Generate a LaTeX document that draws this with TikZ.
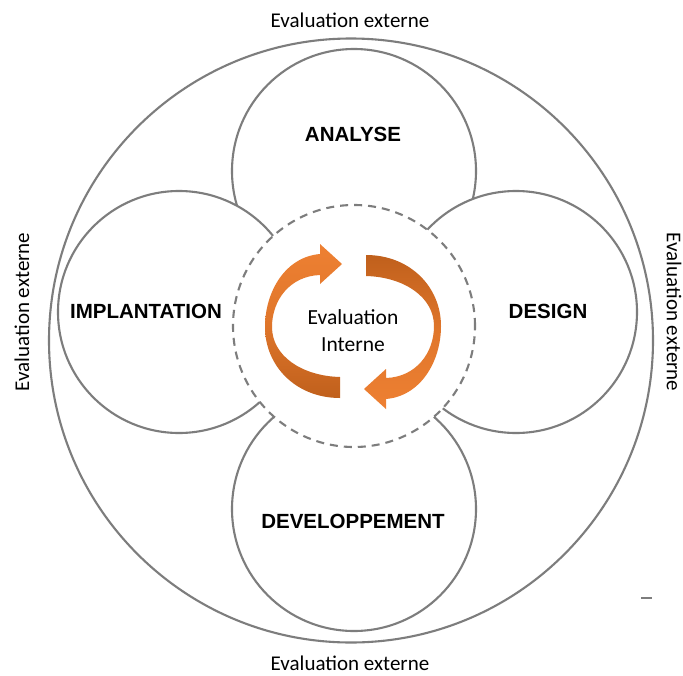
\documentclass[tikz,border=0pt]{standalone}
\usepackage{fontspec}
\setmainfont{Carlito}
\newfontfamily\labelfont{Liberation Sans}
\definecolor{linegray}{RGB}{125,125,125}
\definecolor{orlight}{RGB}{238,128,50}
\definecolor{ordark}{RGB}{192,96,28}
\begin{document}
\begin{tikzpicture}[x=1pt,y=-1pt,
  ring/.style={circle, draw=linegray, line width=2.1pt, fill=white, inner sep=0pt},
  ext/.style={font=\fontsize{21}{25}\selectfont, inner sep=0pt},
  lab/.style={font=\labelfont\bfseries\fontsize{20.5}{24}\selectfont, inner sep=0pt},
]
\useasboundingbox (0,0) rectangle (683,675);
\fill[white] (0,0) rectangle (683,675);
% outer circle
\node[ring, fill=none, minimum size=604pt] (outer) at (351,340.5) {};
% phase circles
\node[ring, minimum size=244pt] (top) at (354,171) {};
\node[ring, minimum size=242pt] (left) at (179,312) {};
\node[ring, minimum size=242pt] (right) at (516,312) {};
\node[ring, minimum size=244pt] (bottom) at (354,509) {};
% dashed inner circle
\node[ring, dash pattern=on 8pt off 6pt, minimum size=242pt] (inner) at (354,326) {};
% left arrow
\shade[top color=orlight, bottom color=ordark, middle color=orlight!70!ordark]
  (320,254) .. controls (285,257) and (265,292) .. (265,327)
  .. controls (265,366) and (296,398) .. (340,398)
  -- (340,377)
  .. controls (302,376) and (272,356) .. (272,327)
  .. controls (272,300) and (290,276) .. (320,275)
  -- (320,284) -- (342,264) -- (320,244) -- cycle;
% right arrow
\shade[top color=ordark, bottom color=orlight, middle color=orlight!70!ordark]
  (386,399) .. controls (421,396) and (441,361) .. (441,326)
  .. controls (441,287) and (410,255) .. (366,255)
  -- (366,276)
  .. controls (404,277) and (434,297) .. (434,326)
  .. controls (434,353) and (416,377) .. (386,378)
  -- (386,369) -- (364,389) -- (386,409) -- cycle;
% texts
\node[ext, align=center, font=\fontsize{21.5}{27}\selectfont] (inner text) at (353,331) {Evaluation\\Interne};
\node[lab] (analyse) at (353,134) {ANALYSE};
\node[lab] (implantation) at (146,311) {IMPLANTATION};
\node[lab] (design) at (548,311) {DESIGN};
\node[lab] (dev) at (353,521) {DEVELOPPEMENT};
\node[ext] (ext top) at (350,20) {Evaluation externe};
\node[ext] (ext bottom) at (350,663) {Evaluation externe};
\node[ext, rotate=90] (ext left) at (22,312) {Evaluation externe};
\node[ext, rotate=-90] (ext right) at (674,312) {Evaluation externe};
% small mark
\draw[linegray, line width=1.2pt] (641,598) -- (652,598);
\end{tikzpicture}
\end{document}
